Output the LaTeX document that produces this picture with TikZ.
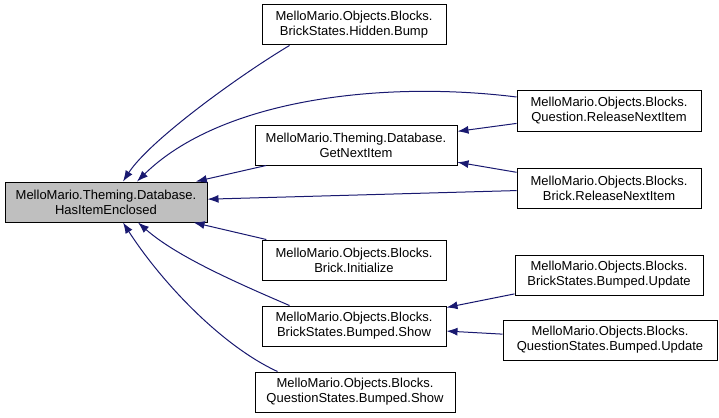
\documentclass[tikz,border=0pt]{standalone}
\usepackage{fontspec}
\setmainfont{Liberation Sans}
\usetikzlibrary{arrows.meta}
\definecolor{edgeblue}{HTML}{191970}
\definecolor{hiegray}{HTML}{BFBFBF}
\begin{document}
\begin{tikzpicture}[x=1pt, y=-1pt,
  every node/.style={align=center, font=\fontsize{13}{15}\selectfont},
  fn/.style={draw, line width=1pt, fill=white, minimum height=40pt, inner sep=0pt},
  call/.style={draw=edgeblue, line width=1pt, -{Latex[length=11pt,width=8pt]}}]
\useasboundingbox (0,0) rectangle (719,417);
\node[fn, fill=hiegray, minimum width=202pt] at (106,202) (hie) {MelloMario.Theming.Database.\\HasItemEnclosed};
\node[fn, minimum width=184pt] at (354,25) (hidden) {MelloMario.Objects.Blocks.\\BrickStates.Hidden.Bump};
\node[fn, minimum width=202pt] at (356,145) (getnext) {MelloMario.Theming.Database.\\GetNextItem};
\node[fn, minimum width=184pt] at (609,111) (qrel) {MelloMario.Objects.Blocks.\\Question.ReleaseNextItem};
\node[fn, minimum width=184pt] at (609,188) (brel) {MelloMario.Objects.Blocks.\\Brick.ReleaseNextItem};
\node[fn, minimum width=184pt] at (354,260) (binit) {MelloMario.Objects.Blocks.\\Brick.Initialize};
\node[fn, minimum width=184pt] at (354,326) (bshow) {MelloMario.Objects.Blocks.\\BrickStates.Bumped.Show};
\node[fn, minimum width=200pt] at (355,392) (qshow) {MelloMario.Objects.Blocks.\\QuestionStates.Bumped.Show};
\node[fn, minimum width=188pt] at (609,275) (bupd) {MelloMario.Objects.Blocks.\\BrickStates.Bumped.Update};
\node[fn, minimum width=214pt] at (610,340) (qupd) {MelloMario.Objects.Blocks.\\QuestionStates.Bumped.Update};

\draw[call] ([xshift=28pt]hidden.south west) .. controls (240,75) and (150,140) .. ([xshift=17pt]hie.north);
\draw[call] ([yshift=14pt]qrel.west) .. controls (380,80) and (220,100) .. ([xshift=31pt]hie.north);
\draw[call] (getnext) -- (hie);
\draw[call] (qrel) -- (getnext);
\draw[call] (brel) -- (getnext);
\draw[call] (brel) -- (hie);
\draw[call] (binit) -- (hie);
\draw[call] ([xshift=28pt]bshow.north west) .. controls (230,280) and (175,255) .. ([xshift=32pt]hie.south);
\draw[call] ([xshift=23pt]qshow.north west) .. controls (220,345) and (160,280) .. ([xshift=17pt]hie.south);
\draw[call] (bupd) -- (bshow);
\draw[call] (qupd) -- (bshow);
\end{tikzpicture}
\end{document}
